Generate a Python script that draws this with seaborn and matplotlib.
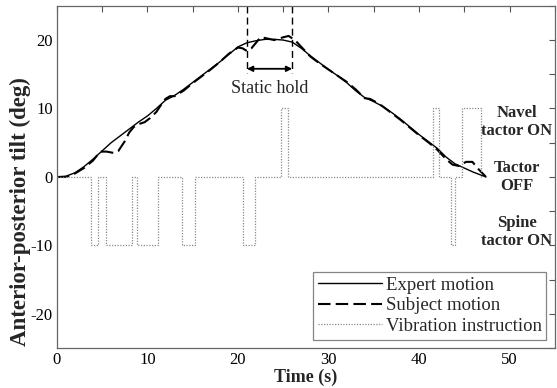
import numpy as np
import pandas as pd
import matplotlib
matplotlib.use('Agg')
import matplotlib.pyplot as plt
import seaborn as sns

# dados
expert_t = [0, 1, 2, 3, 4, 5, 6, 7, 8, 9, 10, 11, 12, 13, 14, 15, 16, 17, 18, 19,
            20, 21, 22, 23, 24, 25, 26, 27, 28, 29, 30, 31, 32, 33, 34, 35, 36, 37,
            38, 39, 40, 41, 42, 43, 44, 45, 46, 47, 47.4]
expert_v = [0, 0.1, 0.6, 1.5, 2.6, 3.8, 5.0, 6.0, 7.0, 8.0, 8.9, 10.0, 11.2, 11.9,
            12.8, 13.8, 14.8, 15.8, 16.8, 17.9, 19.0, 19.6, 19.9, 20.1, 20.1, 20.0,
            19.7, 18.8, 17.7, 16.7, 15.7, 14.8, 13.8, 12.6, 11.6, 11.0, 10.3, 9.4,
            8.4, 7.3, 6.2, 5.2, 4.2, 2.9, 1.9, 1.3, 0.7, 0.2, 0]

subject_t = [0, 1, 2, 3, 4, 4.8, 5.5, 6.3, 6.8, 7.5, 8, 8.5, 9, 9.7, 10.3, 11, 11.5,
             12, 12.5, 13, 13.5, 14, 15, 16, 17, 18, 19, 20, 20.5, 21, 21.5, 22,
             22.5, 23, 24, 25, 25.6, 26.3, 27, 28, 29, 30, 31, 32, 33, 34, 34.6,
             35.3, 36, 37, 38, 39, 40, 41, 42, 43, 43.7, 44.4, 45.2, 45.9, 46.6, 47.4]
subject_v = [0, 0, 0.5, 1.3, 2.4, 3.7, 3.7, 3.5, 3.8, 5.2, 6.5, 7.3, 7.7, 8.0, 8.6,
             9.5, 10.5, 11.4, 11.8, 11.8, 12.2, 12.6, 13.7, 14.7, 15.7, 16.8, 18.0,
             18.9, 18.8, 18.4, 18.8, 19.6, 20.4, 20.3, 20.0, 20.4, 20.6, 20.0, 19.0,
             17.6, 16.6, 15.7, 14.8, 13.9, 12.8, 11.5, 11.4, 10.9, 10.3, 9.3, 8.3,
             7.2, 6.1, 5.1, 4.0, 2.6, 1.8, 1.6, 2.2, 2.2, 1.1, 0]

vib_t = [0, 3.8, 4.5, 5.45, 8.3, 8.85, 11.2, 13.85, 15.3, 20.55, 21.85, 24.8, 25.5,
         41.6, 42.2, 43.5, 44.0, 44.75, 46.85, 47.0]
vib_v = [0, -10, 0, -10, 0, -10, 0, -10, 0, -10, 0, 10, 0, 10, 0, -10, 0, 10, 0, 0]

hold_ini, hold_fim = 21, 26

rotulos_lado = ['Navel\ntactor ON', 'Tactor\nOFF', 'Spine\ntactor ON']
rotulos_y = [8, 0, -8]

sns.set_style('white')
plt.rcParams['font.family'] = ['Liberation Serif', 'DejaVu Serif']

fig = plt.figure(figsize=(5.57, 3.88), dpi=100)
ax = fig.add_axes([0.102, 0.103, 0.894, 0.882])

sns.lineplot(x=expert_t, y=expert_v, ax=ax, color='black', linewidth=1.0,
             label='Expert motion')
sns.lineplot(x=subject_t, y=subject_v, ax=ax, color='black', linewidth=1.5,
             linestyle=(0, (6, 2.5)), label='Subject motion')
sns.lineplot(x=vib_t, y=vib_v, ax=ax, color='#8a8a8a', linewidth=0.9,
             linestyle=(0, (1, 1.2)), drawstyle='steps-post',
             label='Vibration instruction')

# marcacao do "static hold"
for xv in (hold_ini, hold_fim):
    ax.plot([xv, xv], [25, 15.2], color='black', linewidth=1.0, linestyle=(0, (5, 3)))
ax.annotate('', xy=(hold_ini, 15.8), xytext=(hold_fim, 15.8),
            arrowprops=dict(arrowstyle='<|-|>', color='black', lw=1.3,
                            mutation_scale=8, shrinkA=0, shrinkB=0))
ax.text((hold_ini + hold_fim) / 2, 12.9, 'Static hold', ha='center', va='center',
        fontsize=13)

for txt, yv in zip(rotulos_lado, rotulos_y):
    ax.text(50.8, yv, txt, ha='center', va='center', fontsize=12,
            fontweight='bold', linespacing=1.15)

ax.set_xlim(0, 55)
ax.set_ylim(-25, 25)
ax.set_xticks(np.arange(0, 56, 5))
ax.set_xticklabels([str(v) if v % 10 == 0 else '' for v in range(0, 56, 5)])
ax.set_yticks(np.arange(-25, 26, 5))
ax.set_yticklabels([str(v) if v % 10 == 0 else '' for v in range(-25, 26, 5)])
ax.tick_params(direction='in', length=4, width=0.8, top=True, right=True,
               labelsize=12, colors='#555555', labelcolor='black', pad=3)
for sp in ax.spines.values():
    sp.set_color('#666666')
    sp.set_linewidth(0.9)

ax.set_xlabel('Time (s)', fontsize=13, fontweight='bold', labelpad=0)
ax.set_ylabel('Anterior-posterior tilt (deg)', fontsize=16.5, fontweight='bold')
ax.yaxis.set_label_coords(-0.052, 0.398)

leg = ax.legend(loc='lower right', fontsize=13.5, handlelength=3.4,
                handletextpad=0.2, labelspacing=0.18, borderpad=0.25,
                borderaxespad=0.45, frameon=True, fancybox=False)
leg.get_frame().set_edgecolor('#666666')
leg.get_frame().set_linewidth(0.9)

fig.savefig('out.png', dpi=100)
